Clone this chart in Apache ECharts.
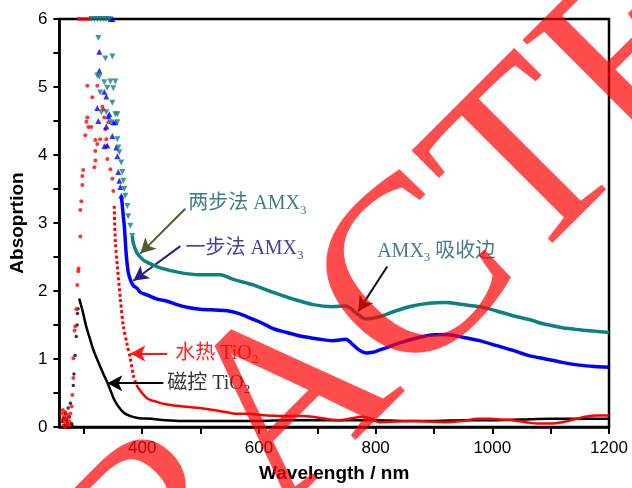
<!DOCTYPE html>
<html><head><meta charset="utf-8">
<script src="https://cdn.jsdelivr.net/npm/echarts@6/dist/echarts.min.js"></script>
<style>html,body{margin:0;padding:0;background:#fff}#c{width:632px;height:488px}</style>
</head><body><div id="c"></div>
<script>
// ---- axis ticks / labels ----
const xTicks = [300,400,500,600,700,800,900,1000,1100,1200];
const xLabels = [400,600,800,1000,1200];
const yTicks = [0,0.5,1,1.5,2,2.5,3,3.5,4,4.5,5,5.5,6];
const yLabels = [0,1,2,3,4,5,6];

// ---- 磁控 TiO2 (black) ----
const magnetronDots = [[263,0.08],[265,0.13],[267,0.03],[268,0.2],[270,0.1],[272,0.06],[273,0.28],[275,0.15],[277,0.35],[279,0.05],[280,0.02],[282,0.61],[283,0.78],[285,1.05],[287,1.33],[288.5,1.5],[289,1.67],[290,1.74]];
const magnetronLine = [[292,1.89],[298,1.70],[304,1.48],[310,1.31],[316,1.14],[322,1.01],[328,0.89],[334,0.77],[340,0.66],[346,0.53],[351,0.42],[357,0.33],[363,0.26],[370,0.2],[380,0.16],[395,0.13],[415,0.12],[440,0.1],[470,0.09],[520,0.09],[560,0.09],[600,0.09],[650,0.1],[700,0.1],[750,0.1],[800,0.1],[850,0.09],[900,0.09],[950,0.1],[1000,0.1],[1050,0.11],[1100,0.12],[1150,0.12],[1200,0.12]];

// ---- 水热 TiO2 (red) ----
const hydroDots = [[262,0.2],[263,0.1],[264,0.25],[265,0.02],[266,0.15],[267,0.08],[268,0.22],[269,0.0],[270,0.12],[271,0.18],[272,0.04],[274,0.14],[275,0.08],[276,0.02],[277,0.2],[279,0.3],
  [280.3,0.47],[282,0.72],[282,1.01],[284,1.42],[285.4,1.48],[287,1.73],[288.8,2.09],[290.5,2.29],[291,2.33],[294,2.8],[294,3.19],[295.7,3.32],[297.4,3.56],[297.4,3.69],[299,3.78],[302.5,4.29],[304.3,4.49],[306,4.55],[306,5.02],[307.7,4.41],[312.8,4.41],[314.5,4.85],[318,3.82],[319.7,3.92],[319.7,4.06],[319.7,4.22],[323,4.16],[323,5.02],[328,4.23],[331.7,4.71],[333.4,4.67],[335,4.55],[336.8,4.38],[338.5,4.23],[338.5,4.13],[340.2,3.94],[342,4.48],[345.4,3.79],[348.8,3.65],[350.5,3.47],
  [291,6],[295,6],[300,6],[305,6],[310,6]];
const hydroSteep = [[352,3.25],[354,2.72],[357.4,2.37],[362.5,1.89],[367.6,1.49],[374.5,1.2],[379.6,1.01],[384.8,0.76],[390,0.62]];
const hydroLine = [[390,0.62],[397,0.53],[408.7,0.42],[425,0.37],[443,0.33],[470,0.3],[499,0.28],[530,0.24],[556,0.2],[585,0.19],[614,0.17],[650,0.16],[671,0.16],[692,0.15],[715,0.12],[738,0.1],[760,0.13],[777,0.15],[795,0.11],[806,0.07],[835,0.08],[863,0.09],[890,0.08],[919,0.07],[950,0.09],[975,0.12],[995,0.12],[1015,0.11],[1034,0.1],[1058,0.07],[1080,0.05],[1100,0.05],[1120,0.07],[1140,0.11],[1159,0.15],[1180,0.17],[1200,0.17]];

// ---- 一步法 AMX3 (blue) ----
const oneStepDots = [[323,4.69],[324.8,4.5],[326.5,5.52],[326.5,5.24],[335,4.93],[335,4.13],[338.5,4.86],[338.5,4.42],[340.2,4.14],[342,4.57],[343.7,4.6],[348.8,4.28],[350.5,4.48],[354,4.48],[355.6,4.11],[357.4,3.98],[359,3.75],[360.8,3.62],[362.5,3.53],[364.2,3.4],[346,6],[349,6]];
const oneStepLine = [[364.2,3.4],[366,3.25],[367.6,3.1],[369.3,2.96],[372.8,2.52],[376,2.28],[380,2.16],[384.8,2.08],[391,2.04],[397,1.98],[409,1.94],[426,1.88],[443,1.85],[460,1.8],[477,1.76],[500,1.73],[525,1.72],[546,1.71],[565,1.67],[580,1.62],[600,1.55],[614,1.49],[630,1.43],[648,1.39],[665,1.35],[683,1.32],[705,1.29],[726,1.27],[749,1.29],[760,1.22],[772,1.13],[783,1.09],[795,1.1],[806,1.13],[820,1.17],[835,1.22],[850,1.26],[863,1.29],[892,1.35],[920,1.36],[949,1.32],[978,1.27],[1006,1.2],[1034,1.13],[1063,1.05],[1091,1.0],[1120,0.95],[1149,0.91],[1175,0.89],[1200,0.88]];

// ---- 两步法 AMX3 (teal) ----
const twoStepDots = [[323,5.17],[324.8,5.72],[326.5,5.15],[328,4.92],[330,4.63],[335,5.07],[336.8,5.42],[338.5,4.63],[340,4.99],[345.4,5.08],[345.4,4.48],[348.8,5.45],[348.8,4.77],[350.5,4.98],[354,5.08],[354,4.6],[357.4,4.6],[357.4,4.48],[357.4,4.23],[359,4.11],[360.8,4.04],[364,3.89],[366,3.75],[367.6,3.62],[369.3,3.5],[371,3.4],[374.5,3.25],[376,3.1],[379.6,2.96],[383,2.81],
  [313,6],[318,6],[323,6],[328,6],[333,6],[338,6],[343,6]];
const twoStepLine = [[383,2.81],[384.8,2.7],[391,2.56],[400,2.47],[408.7,2.42],[431,2.34],[465,2.27],[499.5,2.24],[534,2.24],[556,2.17],[590,2.09],[624.6,1.98],[659,1.88],[693,1.8],[726,1.77],[749,1.78],[766,1.68],[783,1.59],[806,1.62],[835,1.71],[863,1.78],[892,1.82],[920,1.83],[949,1.8],[978,1.77],[1006,1.71],[1034,1.64],[1063,1.58],[1091,1.51],[1120,1.46],[1149,1.43],[1175,1.41],[1200,1.39]];

// ---- annotations (data coordinates) ----
const annoTexts = [
  {t:'两步法 AMX', sub:'3', at:[479,3.28], color:'#3f7d86'},
  {t:'一步法 AMX', sub:'3', at:[474,2.62], color:'#4b3ca0'},
  {t:'AMX', sub:'3', tail:' 吸收边', at:[802.7,2.58], color:'#4a7c88'},
  {t:'水热 TiO', sub:'2', at:[456.7,1.08], color:'#ff2020'},
  {t:'磁控 TiO', sub:'2', at:[443,0.64], color:'#333333'}
];
const annoArrows = [
  {from:[473.8,3.21], to:[396.8,2.55], color:'#4e5e26'},
  {from:[465.3,2.66], to:[384.8,2.15], color:'#2b1b8c'},
  {from:[819.9,2.36], to:[770.2,1.70], color:'#111111'},
  {from:[443,1.08], to:[379.6,1.08], color:'#ff1a1a'},
  {from:[436.2,0.644], to:[340.2,0.644], color:'#000000'}
];
const watermarkText = 'RETRACTED';

const chart = echarts.init(document.getElementById('c'));
const serif = '"Liberation Serif","Noto Sans CJK SC",serif';
const sans = '"Liberation Sans",Arial,sans-serif';

const option = {
  animation:false,
  backgroundColor:'#fff',
  grid:{left:59,right:23,top:19,bottom:59,show:true,borderColor:'#000',borderWidth:2.5,backgroundColor:'transparent'},
  xAxis:{type:'value',min:258,max:1200,
    name:'Wavelength / nm',nameLocation:'middle',nameGap:37,
    nameTextStyle:{fontFamily:sans,fontWeight:'bold',fontSize:19,color:'#000'},
    axisLine:{show:true,lineStyle:{color:'#000',width:2.5}},
    axisTick:{show:true,inside:false,length:7,lineStyle:{width:2,color:'#000'},customValues:xTicks},
    axisLabel:{customValues:xLabels,margin:13,fontFamily:sans,fontSize:17,color:'#000',formatter:v=>String(v)},
    splitLine:{show:false}},
  yAxis:{type:'value',min:0,max:6,
    name:'Absoprtion',nameLocation:'middle',nameGap:30,
    nameTextStyle:{fontFamily:sans,fontWeight:'bold',fontSize:19,color:'#000'},
    axisLine:{show:true,lineStyle:{color:'#000',width:2.5}},
    axisTick:{show:true,inside:false,length:6,lineStyle:{width:2,color:'#000'},customValues:yTicks},
    axisLabel:{customValues:yLabels,margin:12,fontFamily:sans,fontSize:17,color:'#000',formatter:v=>String(v)},
    splitLine:{show:false}},
  series:[
    {type:'line',data:magnetronLine,smooth:0.3,showSymbol:false,lineStyle:{color:'#000',width:2.5},z:3},
    {type:'scatter',data:magnetronDots,symbolSize:3.5,itemStyle:{color:'#000'},z:3},
    {type:'line',data:hydroLine,smooth:0.3,showSymbol:false,lineStyle:{color:'#ff0000',width:2.5},z:4},
    {type:'line',data:hydroSteep,smooth:0.3,showSymbol:false,lineStyle:{color:'#ff0000',width:3,type:[3,2.5]},z:4},
    {type:'scatter',data:hydroDots,symbolSize:4,itemStyle:{color:'#ff0000'},z:4},
    {type:'line',data:oneStepLine,smooth:0.3,showSymbol:false,lineStyle:{color:'#0000ff',width:3.5},z:5},
    {type:'scatter',data:oneStepDots,symbol:'triangle',symbolSize:6,itemStyle:{color:'#0000ff'},z:5},
    {type:'line',data:twoStepLine,smooth:0.3,showSymbol:false,lineStyle:{color:'#0f8080',width:3.5},z:6},
    {type:'scatter',data:twoStepDots,symbol:'triangle',symbolRotate:180,symbolSize:6,itemStyle:{color:'#0f8080'},z:6},
    {type:'line',data:[],z:10,silent:true,
      markLine:{silent:true,symbol:['none','arrow'],symbolSize:[12,15],label:{show:false},animation:false,
        data:annoArrows.map(a=>[{coord:a.from,lineStyle:{color:a.color,width:2,type:'solid'},itemStyle:{color:a.color}},{coord:a.to}])}}
  ]
};
chart.setOption(option);

const graphics = annoTexts.map(a=>{
  const p = chart.convertToPixel({xAxisIndex:0,yAxisIndex:0},a.at);
  const txt = '{m|'+a.t+'}{s|'+a.sub+'}'+(a.tail?'{m|'+a.tail+'}':'');
  return {type:'text',x:p[0],y:p[1],z:20,silent:true,
    style:{text:txt,align:'left',textAlign:'left',verticalAlign:'middle',textVerticalAlign:'middle',
      fill:a.color,fontFamily:serif,fontSize:20,
      rich:{m:{fontFamily:serif,fontSize:20,fill:a.color,color:a.color,lineHeight:26,verticalAlign:'middle'},
            s:{fontFamily:serif,fontSize:13,fill:a.color,color:a.color,lineHeight:26,verticalAlign:'bottom'}}}};
});
graphics.push({type:'text',x:300,y:402,rotation:Math.PI/4,z:100,silent:true,
  style:{text:watermarkText,fontFamily:'"Liberation Serif",serif',fontSize:252,fill:'rgba(255,0,0,0.7)',
    align:'center',textAlign:'center',verticalAlign:'middle',textVerticalAlign:'middle'}});
chart.setOption({graphic:{elements:graphics}});
</script></body></html>
